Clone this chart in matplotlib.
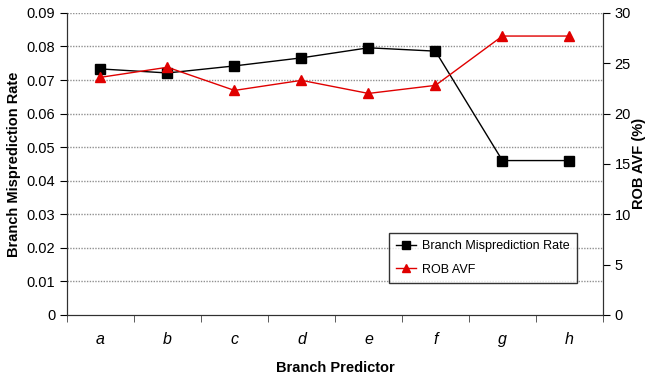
import matplotlib.pyplot as plt
import numpy as np

plt.rcParams['font.family'] = ['Liberation Sans', 'DejaVu Sans']

predictors = ['a', 'b', 'c', 'd', 'e', 'f', 'g', 'h']
mispred = [0.0733, 0.0721, 0.0742, 0.0766, 0.0796, 0.0786, 0.0460, 0.0460]
rob_avf = [23.6, 24.6, 22.3, 23.3, 22.0, 22.8, 27.7, 27.7]

fig = plt.figure(figsize=(6.48, 3.79), dpi=100)
ax = fig.add_axes([0.1034, 0.169, 0.827, 0.797])
ax2 = ax.twinx()

x = np.arange(len(predictors))

for v in np.arange(0.01, 0.0901, 0.01):
    ax.axhline(v, color='#909090', lw=1.0, ls=(0, (1, 1)), zorder=0)

l1, = ax.plot(x, mispred, color='black', lw=1, marker='s', ms=7, label='Branch Misprediction Rate', zorder=3)
l2, = ax2.plot(x, rob_avf, color='#e00000', lw=1, marker='^', ms=7, label='ROB AVF', zorder=3)

ax.set_xlim(-0.5, 7.5)
ax.set_ylim(0, 0.09)
ax2.set_ylim(0, 30)
ax.set_yticks(np.arange(0, 0.0901, 0.01))
ax.set_yticklabels(['0'] + ['%.2f' % v for v in np.arange(0.01, 0.0901, 0.01)])
ax2.set_yticks(range(0, 31, 5))

ax.set_xticks(x)
ax.set_xticklabels(predictors, fontstyle='italic', fontsize=11.5)
ax.tick_params(axis='x', which='major', length=0, pad=12)
ax.set_xticks(np.arange(-0.5, 8, 1), minor=True)
ax.tick_params(axis='x', which='minor', length=5, direction='out', color='#404040')
ax.tick_params(axis='y', labelsize=10.5, length=5, direction='out')
ax2.tick_params(axis='y', labelsize=10.5, length=5, direction='out')

for a in (ax, ax2):
    a.spines['top'].set_visible(False)
    a.spines['left'].set_color('#303030')
    a.spines['right'].set_color('#303030')
    a.spines['bottom'].set_color('#303030')

ax.set_ylabel('Branch Misprediction Rate', fontsize=10.5, fontweight='bold', labelpad=4)
ax2.set_ylabel('ROB AVF (%)', fontsize=10.5, fontweight='bold', labelpad=1)
ax.set_xlabel('Branch Predictor', fontsize=10.5, fontweight='bold', labelpad=10)

leg = ax2.legend(handles=[l1, l2], loc='lower left', bbox_to_anchor=(0.6, 0.105),
                 fontsize=9, frameon=True, fancybox=False, edgecolor='black',
                 handlelength=1.6, handletextpad=0.5, labelspacing=0.9,
                 borderpad=0.6, markerscale=0.75, borderaxespad=0)
leg.get_frame().set_linewidth(1)

fig.savefig('out.png', dpi=100)
